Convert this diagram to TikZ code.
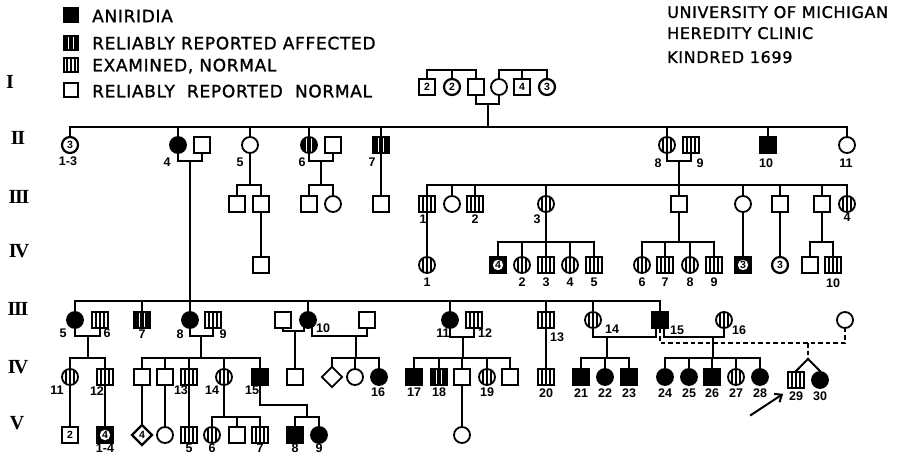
\documentclass[tikz,border=0pt]{standalone}
\usepackage{fontspec}
\setmainfont{DejaVu Sans}
\newfontfamily\legfont{DejaVu Sans}[LetterSpace=4,FakeBold=1.2]
\newfontfamily\numfont{Liberation Sans}
\newfontfamily\romfont{Liberation Serif}
\usetikzlibrary{shapes.geometric,arrows.meta,calc}

\tikzset{
  sym/.style={draw=black,line width=1.8pt,inner sep=0pt,minimum size=16pt,
    font=\numfont\fontsize{10.5}{10.5}\selectfont\bfseries},
  sqN/.style={sym,rectangle},
  ciN/.style={sym,circle},
  sqA/.style={sqN,fill=black},
  ciA/.style={ciN,fill=black},
  rep/.style={fill=black,path picture={
    \foreach \dd in {-2.6,2.6}
      \draw[white,line width=0.9pt] ([xshift=\dd pt]path picture bounding box.north)
        -- ([xshift=\dd pt]path picture bounding box.south);}},
  sqR/.style={sqN,rep},
  ciR/.style={ciN,rep},
  exam/.style={path picture={
    \foreach \dd in {-4,0,4}
      \draw[line width=1.1pt] ([xshift=\dd pt]path picture bounding box.north)
        -- ([xshift=\dd pt]path picture bounding box.south);}},
  sqE/.style={sqN,exam},
  ciE/.style={ciN,exam},
  sqM/.style={sqN,line width=2.2pt},
  ciM/.style={ciN,line width=2.2pt},
  sqD/.style={sqN,fill=black,path picture={
    \fill[white] (path picture bounding box.center) circle (5.2pt);}},
  dm/.style={sym,diamond,minimum size=21pt},
  dmM/.style={dm,line width=2.2pt},
  lin/.style={line width=2pt,line cap=rect},
  dsh/.style={line width=2pt,dash pattern=on 4.5pt off 3pt},
  lab/.style={inner sep=0pt,font=\numfont\fontsize{12.5}{12.5}\selectfont\bfseries},
  legtxt/.style={anchor=west,inner sep=0pt,text depth=0pt,
    font=\legfont\fontsize{17}{17}\selectfont},
  headtxt/.style={anchor=west,inner sep=0pt,text depth=0pt,
    font=\legfont\fontsize{16}{16}\selectfont},
  gen/.style={inner sep=0pt,font=\romfont\bfseries\fontsize{20}{20}\selectfont},
}

\begin{document}
\begin{tikzpicture}[x=1pt,y=-1pt]
  \fill[white] (0,0) rectangle (919,456);
  \useasboundingbox (0,0) rectangle (919,456);

  % key and heading
  \node[sqA,minimum size=14pt] (keyA) at (71,15) {};
  \node[sqR,minimum size=14pt] (keyR) at (71,43) {};
  \node[sqE,minimum size=14pt] (keyE) at (71,65) {};
  \node[sqN,minimum size=14pt] (keyN) at (71,90) {};
  \node[legtxt] (txtA) at (92,16) {ANIRIDIA};
  \node[legtxt] (txtR) at (92,43) {RELIABLY REPORTED AFFECTED};
  \node[legtxt] (txtE) at (92,65) {EXAMINED, NORMAL};
  \node[legtxt] (txtN) at (92,91) {RELIABLY\ \ REPORTED\ \ NORMAL};
  \node[headtxt] (head1) at (667,12) {UNIVERSITY OF MICHIGAN};
  \node[headtxt] (head2) at (667,33) {HEREDITY CLINIC};
  \node[headtxt] (head3) at (667,57) {KINDRED 1699};

  \foreach \nm/\x/\yy/\r in {gI/10/82/I, gII/18/138/{I\kern-1.2pt I},
     gIIIa/19/197/{I\kern-1.2pt I\kern-1.2pt I}, gIVa/19/251/{I\kern-1.8pt V},
     gIIIb/18/309/{I\kern-1.2pt I\kern-1.2pt I}, gIVb/18/367/{I\kern-1.8pt V},
     gV/17/423/V}
    \node[gen] (\nm) at (\x,\yy) {\r};

  % generation I
  \foreach \k/\x/\s/\tx in {Ia/427/sqM/2, Ib/452/ciM/2, I1/476/sqN/{}, I2/499/ciN/{},
     Ic/522/sqM/4, Id/547/ciM/3}
    \node[\s] (\k) at (\x,87) {\tx};
  % generation II
  \foreach \k/\x/\s/\tx in {II1/70/ciM/3, II4/178/ciA/{}, II4m/202/sqN/{},
     II5/250/ciN/{}, II6/309/ciR/{}, II6m/333/sqN/{}, II7/381/sqR/{},
     II8/667/ciE/{}, II9/691/sqE/{}, II10/768/sqA/{}, II11/847/ciN/{}}
    \node[\s] (\k) at (\x,145) {\tx};
  % generation III, upper branch
  \foreach \k/\x/\s in {IIIa/237/sqN, IIIb/261/sqN, IIIc/309/sqN, IIId/333/ciN,
     IIIe/381/sqN, III1/427/sqE, IIIf/452/ciN, III2/475/sqE, III3/546/ciE,
     IIIg/679/sqN, IIIh/743/ciN, IIIi/780/sqN, IIIj/822/sqN, III4/847/ciE}
    \node[\s] (\k) at (\x,204) {};
  % generation IV, upper branch
  \foreach \k/\x/\s/\tx in {IVa/261/sqN/{}, IV1/427/ciE/{}, IVb/498/sqD/4,
     IV2/522/ciE/{}, IV3/546/sqE/{}, IV4/570/ciE/{}, IV5/594/sqE/{},
     IV6/642/ciE/{}, IV7/665/sqE/{}, IV8/690/ciE/{}, IV9/714/sqE/{},
     IVc/743/sqD/3, IVd/780/ciM/3, IVe/810/sqN/{}, IV10/833/sqE/{}}
    \node[\s] (\k) at (\x,265) {\tx};
  % generation III, lower branch
  \foreach \k/\x/\s in {III5/75/ciA, III6/100/sqE, III7/142/sqR, III8/190/ciA,
     III9/213/sqE, IIIk/283/sqN, III10/308/ciA, IIIl/367/sqN, III11/450/ciA,
     III12/474/sqE, III13/546/sqE, III14/593/ciE, III15/660/sqA, III16/724/ciE,
     IIIm/845/ciN}
    \node[\s] (\k) at (\x,320) {};
  % generation IV, lower branch
  \foreach \k/\x/\s in {IV11/70/ciE, IV12/105/sqE, IVf/142/sqN, IVg/165/sqN,
     IV13/189/sqE, IV14/224/ciE, IV15/260/sqA, IVh/295/sqN, IVi/332/dm,
     IVj/355/ciN, IV16/379/ciA, IV17/414/sqA, IV18/439/sqR, IVk/462/sqN,
     IV19/487/ciE, IVl/510/sqN, IV20/546/sqE, IV21/581/sqA, IV22/605/ciA,
     IV23/629/sqA, IV24/665/ciA, IV25/689/ciA, IV26/712/sqA, IV27/736/ciE,
     IV28/760/ciA}
    \node[\s] (\k) at (\x,377) {};
  \node[sqE] (IV29) at (796,380) {};
  \node[ciA] (IV30) at (820,380) {};
  % generation V
  \foreach \k/\x/\s/\tx in {Va/70/sqM/2, V14/105/sqD/4, Vb/142/dmM/4,
     Vc/165/ciN/{}, V5/189/sqE/{}, V6/212/ciE/{}, Vd/237/sqN/{},
     V7/260/sqE/{}, V8/295/sqA/{}, V9/319/ciA/{}, Ve/462/ciN/{}}
    \node[\s] (\k) at (\x,435) {\tx};

  % numbers
  \foreach \k/\x/\yy/\tx in {II1/68/161/1-3, II4/167/162/4, II5/240/162/5,
     II6/302/162/6, II7/372/162/7, II8/658/163/8, II9/700/163/9,
     II10/766/163/10, II11/846/163/11,
     III1/423/219/1, III2/475/219/2, III3/537/219/3, III4/847/217/4,
     IV1/427/282/1, IV2/522/282/2, IV3/546/282/3, IV4/570/282/4, IV5/594/282/5,
     IV6/642/282/6, IV7/665/282/7, IV8/690/282/8, IV9/714/282/9,
     IV10/833/283/10,
     III5/63/333/5, III6/107/333/6, III7/142/334/7, III8/180/334/8,
     III9/223/334/9, III10/323/328/10, III11/443/333/11, III12/485/333/12,
     III13/557/337/13, III14/612/329/14, III15/677/330/15, III16/739/330/16,
     IV11/57/390/11, IV12/97/391/12, IV13/181/390/13, IV14/212/390/14,
     IV15/252/390/15, IV16/378/392/16, IV17/414/392/17, IV18/439/392/18,
     IV19/487/392/19, IV20/546/393/20, IV21/581/393/21, IV22/605/393/22,
     IV23/629/393/23, IV24/665/393/24, IV25/689/393/25, IV26/712/393/26,
     IV27/736/393/27, IV28/760/393/28, IV29/796/396/29, IV30/820/396/30,
     V14/105/448/1-4, V5/189/448/5, V6/212/448/6, V7/260/448/7,
     V8/295/448/8, V9/319/448/9}
    \node[lab] (n\k) at (\x,\yy) {\tx};

  % lines, generation I
  \coordinate (sbI) at (0,70);
  \coordinate (cpI) at (488,104);
  \coordinate (brII) at (0,127);
  \draw[lin] (Ia.north) -- (Ia.north |- sbI) -- (I1.north |- sbI) -- (I1.north);
  \draw[lin] (Ib.north) -- (Ib.north |- sbI);
  \draw[lin] (I2.north) -- (I2.north |- sbI) -- (Id.north |- sbI) -- (Id.north);
  \draw[lin] (Ic.north) -- (Ic.north |- sbI);
  \draw[lin] (I1.south) -- (I1.south |- cpI) -- (I2.south |- cpI) -- (I2.south);
  \draw[lin] (cpI) -- (cpI |- brII);
  \draw[lin] (II1.north |- brII) -- (II11.north |- brII);
  \foreach \k in {II1,II4,II5,II6,II7,II8,II10,II11}
    \draw[lin] (\k.north) -- (\k.north |- brII);

  % lines, generation II
  \coordinate (sbIII) at (0,185);
  \coordinate (brIIIb) at (0,301);
  \coordinate (cpII4) at (190,161);
  \coordinate (cpII6) at (321,161);
  \coordinate (cpII8) at (679,161);
  \draw[lin] (II4.south) -- (II4.south |- cpII4) -- (II4m.south |- cpII4) -- (II4m.south);
  \draw[lin] (II6.south) -- (II6.south |- cpII6) -- (II6m.south |- cpII6) -- (II6m.south);
  \draw[lin] (II8.south) -- (II8.south |- cpII8) -- (II9.south |- cpII8) -- (II9.south);
  \draw[lin] (cpII4) -- (cpII4 |- brIIIb);
  \draw[lin] (cpII6) -- (cpII6 |- sbIII);
  \draw[lin] (cpII8) -- (cpII8 |- sbIII);
  \draw[lin] (II5.south) -- (II5.south |- sbIII);
  \draw[lin] (II7) -- (IIIe);
  \draw[lin] (IIIa.north |- sbIII) -- (IIIb.north |- sbIII);
  \draw[lin] (IIIc.north |- sbIII) -- (IIId.north |- sbIII);
  \draw[lin] (III1.north |- sbIII) -- (III4.north |- sbIII);
  \foreach \k in {IIIa,IIIb,IIIc,IIId,III1,IIIf,III2,III3,IIIg,IIIh,IIIi,IIIj,III4}
    \draw[lin] (\k.north) -- (\k.north |- sbIII);

  % lines, upper generation III
  \coordinate (sbIV) at (0,242);
  \draw[lin] (IIIb) -- (IVa);
  \draw[lin] (III1) -- (IV1);
  \draw[lin] (IIIh) -- (IVc);
  \draw[lin] (IIIi) -- (IVd);
  \foreach \k in {III3,IIIg,IIIj}
    \draw[lin] (\k.south) -- (\k.south |- sbIV);
  \draw[lin] (IVb.north |- sbIV) -- (IV5.north |- sbIV);
  \draw[lin] (IV6.north |- sbIV) -- (IV9.north |- sbIV);
  \draw[lin] (IVe.north |- sbIV) -- (IV10.north |- sbIV);
  \foreach \k in {IVb,IV2,IV3,IV4,IV5,IV6,IV7,IV8,IV9,IVe,IV10}
    \draw[lin] (\k.north) -- (\k.north |- sbIV);

  % lines, lower generation III
  \coordinate (sbIVb) at (0,358);
  \coordinate (cpIII5) at (88,336);
  \coordinate (cpIII8) at (201,336);
  \coordinate (cpIIIk) at (295,331);
  \coordinate (cpIII10) at (356,336);
  \coordinate (cpIII11) at (463,337);
  \coordinate (cpIII14) at (607,337);
  \coordinate (cpIII15) at (713,337);
  \coordinate (dsIII15) at (0,343);
  \draw[lin] (III5.north |- brIIIb) -- (III15.north |- brIIIb);
  \foreach \k in {III5,III7,III8,III10,III11,III13,III14,III15}
    \draw[lin] (\k.north) -- (\k.north |- brIIIb);
  \draw[lin] (III5.south) -- (III5.south |- cpIII5) -- (III6.south |- cpIII5) -- (III6.south);
  \draw[lin] (III8.south) -- (III8.south |- cpIII8) -- (III9.south |- cpIII8) -- (III9.south);
  \draw[lin] (IIIk.south) -- (IIIk.south |- cpIIIk) -- (III10.-115 |- cpIIIk) -- (III10.-115);
  \draw[lin] (III10.-65) -- (III10.-65 |- cpIII10) -- (IIIl.south |- cpIII10) -- (IIIl.south);
  \draw[lin] (III11.south) -- (III11.south |- cpIII11) -- (III12.south |- cpIII11) -- (III12.south);
  \draw[lin] (III14.south) -- (III14.south |- cpIII14) -- (III15.-115 |- cpIII14) -- (III15.-115);
  \draw[lin] (III15.-65) -- (III15.-65 |- cpIII15) -- (III16.south |- cpIII15) -- (III16.south);
  \draw[dsh] (III15.south) -- (III15.south |- dsIII15) -- (IIIm.south |- dsIII15) -- (IIIm.south);
  \foreach \k in {cpIII5,cpIII8,cpIII10,cpIII11,cpIII14,cpIII15}
    \draw[lin] (\k) -- (\k |- sbIVb);
  \draw[lin] (cpIIIk) -- (IVh.north);
  \draw[lin] (III13) -- (IV20);
  \draw[lin] (IV11.north |- sbIVb) -- (IV12.north |- sbIVb);
  \draw[lin] (IVf.north |- sbIVb) -- (IV15.north |- sbIVb);
  \draw[lin] (IVi.north |- sbIVb) -- (IV16.north |- sbIVb);
  \draw[lin] (IV17.north |- sbIVb) -- (IVl.north |- sbIVb);
  \draw[lin] (IV21.north |- sbIVb) -- (IV23.north |- sbIVb);
  \draw[lin] (IV24.north |- sbIVb) -- (IV28.north |- sbIVb);
  \foreach \k in {IV11,IV12,IVf,IVg,IV13,IV14,IV15,IVi,IVj,IV16,IV17,IV18,IVk,
     IV19,IVl,IV21,IV22,IV23,IV24,IV25,IV26,IV27,IV28}
    \draw[lin] (\k.north) -- (\k.north |- sbIVb);
  \coordinate (twA) at (808,343);
  \coordinate (twB) at (808,359);
  \draw[dsh] (twA) -- (twB);
  \draw[lin] (twB) -- (IV29.north);
  \draw[lin] (twB) -- (IV30.north);
  \coordinate (arS) at (751,415);
  \draw[lin,-{Straight Barb[length=6pt,width=10pt]}] (arS) -- ($(IV29.south west)+(-4,5)$);

  % lines, lower generation IV
  \coordinate (sbV) at (0,417);
  \coordinate (kIV15) at (307,405);
  \draw[lin] (IV11) -- (Va);
  \draw[lin] (IV12) -- (V14);
  \draw[lin] (IVf) -- (Vb);
  \draw[lin] (IVg) -- (Vc);
  \draw[lin] (IV13) -- (V5);
  \draw[lin] (IVk) -- (Ve);
  \draw[lin] (IV14.south) -- (IV14.south |- sbV);
  \draw[lin] (IV15.south) -- (IV15.south |- kIV15) -- (kIV15) -- (kIV15 |- sbV);
  \draw[lin] (V6.north |- sbV) -- (V7.north |- sbV);
  \draw[lin] (V8.north |- sbV) -- (V9.north |- sbV);
  \foreach \k in {V6,Vd,V7,V8,V9}
    \draw[lin] (\k.north) -- (\k.north |- sbV);
\end{tikzpicture}
\end{document}
